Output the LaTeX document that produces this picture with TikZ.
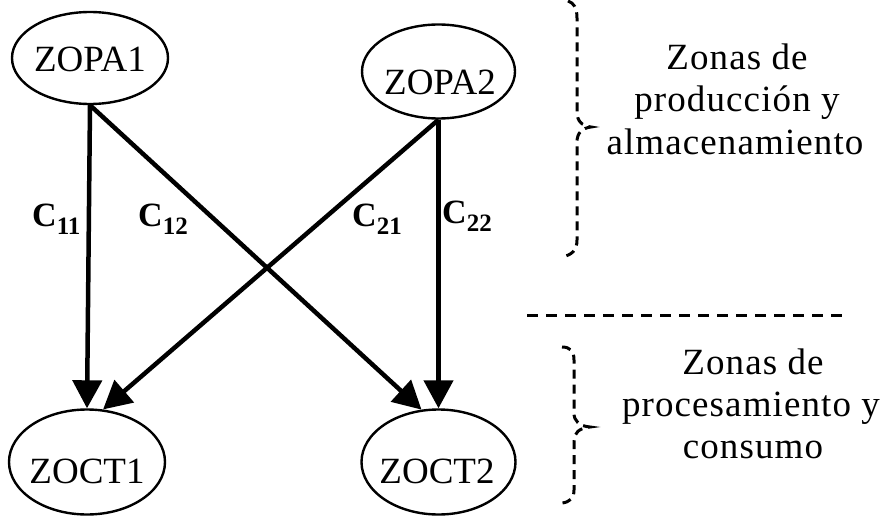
\documentclass[tikz,border=0pt]{standalone}
\usepackage{fontspec}
\setmainfont{Liberation Serif}
\usetikzlibrary{arrows.meta,shapes.geometric}
\begin{document}
\begin{tikzpicture}[x=1pt,y=-1pt,
  zone/.style={draw, ellipse, line width=2.4pt, inner sep=0pt},
  zname/.style={anchor=base, inner sep=0pt, font=\fontsize{37}{40}\selectfont},
  flow/.style={line width=4.5pt, -{Triangle[length=28pt,width=29pt]}},
  cost/.style={anchor=base west, inner sep=0pt, font=\fontsize{34}{34}\selectfont\bfseries},
  zonetext/.style={anchor=base, inner sep=0pt, font=\fontsize{37}{42}\selectfont\addfontfeature{LetterSpace=3}},
  sep/.style={line width=3pt, dash pattern=on 11pt off 8pt},
  bracket/.style={line width=3pt, dash pattern=on 9pt off 6pt}]
\useasboundingbox (0,0) rectangle (883,516);

% zone ellipses
\node[zone, minimum width=156pt, minimum height=92pt] (zopa1) at (90,58) {};
\node[zone, minimum width=153pt, minimum height=94pt] (zopa2) at (438.5,71.5) {};
\node[zone, minimum width=156pt, minimum height=105pt] (zoct1) at (87,462) {};
\node[zone, minimum width=154pt, minimum height=105pt] (zoct2) at (438.5,462) {};

% zone names
\node[zname] (tzopa1) at (90,72) {ZOPA1};
\node[zname] (tzopa2) at (440,95) {ZOPA2};
\node[zname] (tzoct1) at (87,483) {ZOCT1};
\node[zname] (tzoct2) at (437,483) {ZOCT2};

% flows
\draw[flow] (zopa1.south) -- (zoct1.north);
\draw[flow] (zopa1.south) -- (zoct2.108);
\draw[flow] (zopa2.south) -- (zoct1.73);
\draw[flow] (zopa2.south) -- (zoct2.north);

% costs
\node[cost] (c11) at (32,226) {C\raisebox{-8pt}{\fontsize{25}{25}\selectfont 11}};
\node[cost] (c12) at (138,226) {C\raisebox{-8pt}{\fontsize{25}{25}\selectfont 12}};
\node[cost] (c21) at (352,226) {C\raisebox{-8pt}{\fontsize{25}{25}\selectfont 21}};
\node[cost] (c22) at (442,223) {C\raisebox{-8pt}{\fontsize{25}{25}\selectfont 22}};

% upper group
\draw[bracket] (568,1) .. controls (574,3) and (577,8) .. (577,18) -- (577,112)
  .. controls (577,121) and (582,126) .. (591,127)
  .. controls (582,128) and (577,133) .. (577,142) -- (577,240)
  .. controls (577,250) and (572,255) .. (562,257);
\node[zonetext] (up1) at (737,70) {Zonas de};
\node[zonetext] (up2) at (737,112) {producción y};
\node[zonetext] (up3) at (735,154) {almacenamiento};

% separator
\draw[sep] (527,315) -- (843,315);

% lower group
\draw[bracket] (562,347) .. controls (570,347) and (574,351) .. (574,360) -- (574,413)
  .. controls (574,421) and (579,426) .. (590,427)
  .. controls (579,428) and (574,433) .. (574,441) -- (574,490)
  .. controls (574,498) and (570,502) .. (562,503);
\node[zonetext] (lo1) at (753,374) {Zonas de};
\node[zonetext] (lo2) at (751,416) {procesamiento y};
\node[zonetext] (lo3) at (753,458) {consumo};
\end{tikzpicture}
\end{document}
